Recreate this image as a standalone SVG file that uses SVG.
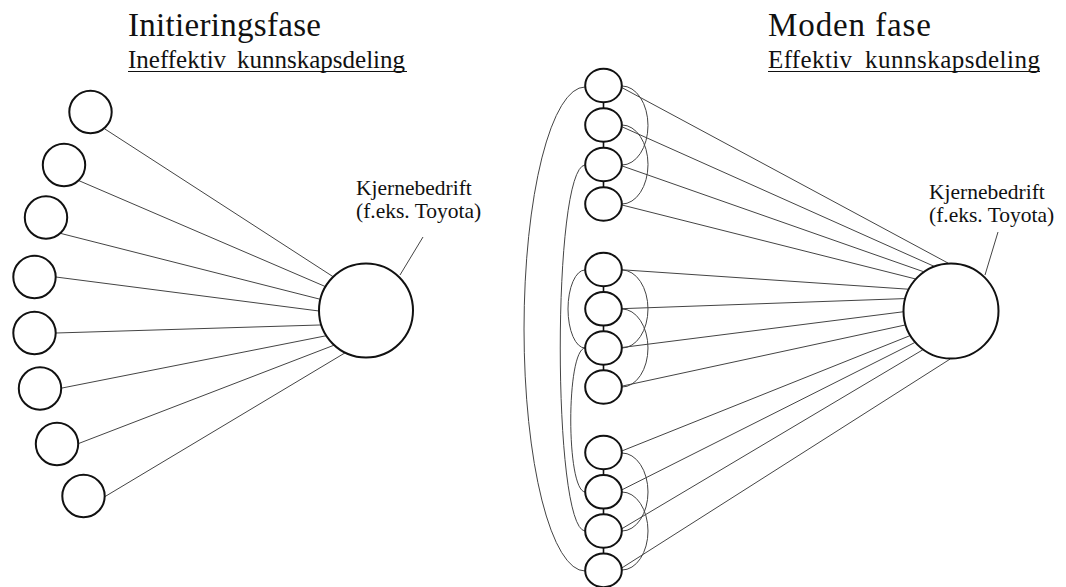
<svg xmlns="http://www.w3.org/2000/svg" width="1066" height="587" viewBox="0 0 1066 587">
  <style>
    .title { font-size: 33px; }
    .sub { font-size: 25px; }
    .lbl { font-size: 21.5px; }
    .node { fill: #fff; stroke: #111; stroke-width: 2; }
    .link { fill: none; stroke: #444; stroke-width: 1; }
    .tick { stroke: #111; stroke-width: 1.6; }
    .rule { stroke: #111; stroke-width: 1.2; }
  </style>
  <rect width="1066" height="587" fill="#fff"/>

  <g font-family="'Liberation Serif', Tinos, 'Times New Roman', 'DejaVu Serif', serif" fill="#111">
    <!-- headings -->
    <g id="heading-left">
      <text class="title" x="128" y="36" textLength="193">Initieringsfase</text>
      <text class="sub" x="128" y="68">Ineffektiv <tspan x="237">kunnskapsdeling</tspan></text>
      <line class="rule" x1="128" y1="71.5" x2="407" y2="71.5"/>
    </g>
    <g id="heading-right">
      <text class="title" x="768" y="36" textLength="163">Moden fase</text>
      <text class="sub" x="768" y="68" textLength="84">Effektiv</text>
      <text class="sub" x="865" y="68" textLength="175">kunnskapsdeling</text>
      <line class="rule" x1="768" y1="71.5" x2="1040" y2="71.5"/>
    </g>
  </g>

  <!-- connectors -->
  <g id="connectors">
    <!-- left network: suppliers to core firm -->
    <line class="link" x1="104.6" y1="128.8" x2="334.5" y2="277.6"/>
    <line class="link" x1="78.3" y1="180.4" x2="326.8" y2="287.2"/>
    <line class="link" x1="59.1" y1="233" x2="321.9" y2="299.7"/>
    <line class="link" x1="52" y1="276.5" x2="322" y2="311.4"/>
    <line class="link" x1="53" y1="333.1" x2="323" y2="324.9"/>
    <line class="link" x1="58.1" y1="388.8" x2="327.9" y2="335.4"/>
    <line class="link" x1="76.3" y1="444.4" x2="334.8" y2="344.9"/>
    <line class="link" x1="102.6" y1="498" x2="345.6" y2="352.5"/>
    <line class="link" x1="423" y1="237" x2="400" y2="275"/>

    <!-- right network: suppliers to core firm -->
    <line class="link" x1="618" y1="85.5" x2="948.1" y2="263.1"/>
    <line class="link" x1="618" y1="125" x2="933.8" y2="266.2"/>
    <line class="link" x1="618" y1="164.5" x2="923.5" y2="271.7"/>
    <line class="link" x1="618" y1="204" x2="915.3" y2="278.9"/>
    <line class="link" x1="618" y1="269.5" x2="908.2" y2="289.2"/>
    <line class="link" x1="618" y1="308.8" x2="904.6" y2="298.6"/>
    <line class="link" x1="618" y1="348" x2="903" y2="311.8"/>
    <line class="link" x1="618" y1="387" x2="905.1" y2="325"/>
    <line class="link" x1="618" y1="452.5" x2="909.9" y2="335.7"/>
    <line class="link" x1="618" y1="491.8" x2="914.8" y2="342.5"/>
    <line class="link" x1="618" y1="531" x2="922.8" y2="349.8"/>
    <line class="link" x1="618" y1="570.4" x2="950.2" y2="359"/>
    <line class="link" x1="998" y1="232" x2="985" y2="275"/>

    <!-- supplier-to-supplier ties, right side of the column -->
    <path class="link" d="M622,86 A26,39.5 0 0 1 622,165"/>
    <path class="link" d="M622,125 A26,39.5 0 0 1 622,204"/>
    <path class="link" d="M622,270 A26,39 0 0 1 622,348"/>
    <path class="link" d="M622,309 A26,39 0 0 1 622,387"/>
    <path class="link" d="M622,453 A26,39 0 0 1 622,531"/>
    <path class="link" d="M622,492 A26,39 0 0 1 622,570"/>

    <!-- supplier-to-supplier ties, left side of the column -->
    <path class="link" d="M585,87 A61,242 0 0 0 585,571"/>
    <path class="link" d="M585,165 C552,168 552,528 585,531"/>
    <path class="link" d="M585,348 C566,350 566,490 585,492"/>
    <path class="link" d="M585,270 A17,39 0 0 0 585,348"/>

    <!-- short links inside each supplier cluster -->
    <line class="tick" x1="603.5" y1="85.5" x2="603.5" y2="204"/>
    <line class="tick" x1="603.5" y1="269.5" x2="603.5" y2="387"/>
    <line class="tick" x1="603.5" y1="452.5" x2="603.5" y2="570.4"/>
  </g>

  <!-- left network nodes -->
  <g id="left-supplier-1"><circle class="node" cx="90.5" cy="112" r="21.2"/></g>
  <g id="left-supplier-2"><circle class="node" cx="64" cy="165" r="21.2"/></g>
  <g id="left-supplier-3"><circle class="node" cx="46" cy="217.5" r="21.2"/></g>
  <g id="left-supplier-4"><circle class="node" cx="34.5" cy="277" r="21.2"/></g>
  <g id="left-supplier-5"><circle class="node" cx="34.5" cy="333" r="21.2"/></g>
  <g id="left-supplier-6"><circle class="node" cx="40" cy="388.5" r="21.2"/></g>
  <g id="left-supplier-7"><circle class="node" cx="57" cy="444" r="21.2"/></g>
  <g id="left-supplier-8"><circle class="node" cx="83.5" cy="496" r="21.2"/></g>
  <g id="left-core">
    <circle class="node" cx="366" cy="310.5" r="47"/>
    <g font-family="'Liberation Serif', Tinos, 'Times New Roman', 'DejaVu Serif', serif" fill="#111">
      <text class="lbl" x="356" y="195">Kjernebedrift</text>
      <text class="lbl" x="356" y="218">(f.eks. Toyota)</text>
    </g>
  </g>

  <!-- right network nodes -->
  <g id="right-supplier-1"><ellipse class="node" cx="603.5" cy="85.5" rx="18.3" ry="16.8"/></g>
  <g id="right-supplier-2"><ellipse class="node" cx="603.5" cy="125" rx="18.3" ry="16.8"/></g>
  <g id="right-supplier-3"><ellipse class="node" cx="603.5" cy="164.5" rx="18.3" ry="16.8"/></g>
  <g id="right-supplier-4"><ellipse class="node" cx="603.5" cy="204" rx="18.3" ry="16.8"/></g>
  <g id="right-supplier-5"><ellipse class="node" cx="603.5" cy="269.5" rx="18.3" ry="16.8"/></g>
  <g id="right-supplier-6"><ellipse class="node" cx="603.5" cy="308.8" rx="18.3" ry="16.8"/></g>
  <g id="right-supplier-7"><ellipse class="node" cx="603.5" cy="348" rx="18.3" ry="16.8"/></g>
  <g id="right-supplier-8"><ellipse class="node" cx="603.5" cy="387" rx="18.3" ry="16.8"/></g>
  <g id="right-supplier-9"><ellipse class="node" cx="603.5" cy="452.5" rx="18.3" ry="16.8"/></g>
  <g id="right-supplier-10"><ellipse class="node" cx="603.5" cy="491.8" rx="18.3" ry="16.8"/></g>
  <g id="right-supplier-11"><ellipse class="node" cx="603.5" cy="531" rx="18.3" ry="16.8"/></g>
  <g id="right-supplier-12"><ellipse class="node" cx="603.5" cy="570.4" rx="18.3" ry="16.8"/></g>
  <g id="right-core">
    <circle class="node" cx="951" cy="311" r="47.5"/>
    <g font-family="'Liberation Serif', Tinos, 'Times New Roman', 'DejaVu Serif', serif" fill="#111">
      <text class="lbl" x="929" y="199">Kjernebedrift</text>
      <text class="lbl" x="929" y="222">(f.eks. Toyota)</text>
    </g>
  </g>
</svg>
